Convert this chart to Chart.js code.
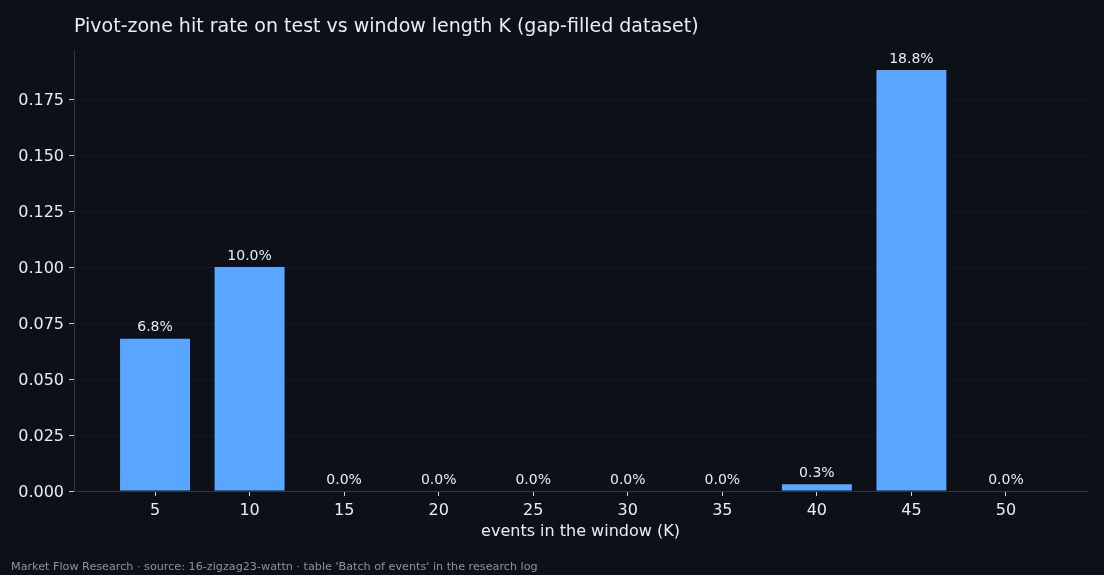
<!DOCTYPE html>
<html>
<head>
<meta charset="utf-8">
<script src="https://cdn.jsdelivr.net/npm/chart.js@4/dist/chart.umd.min.js"></script>
<style>
html,body{margin:0;padding:0;background:#0d1117;}
#wrap{width:1104px;height:575px;position:relative;}
</style>
</head>
<body>
<div id="wrap"><canvas id="c" width="1104" height="575"></canvas></div>
<script>
const windowK = [5, 10, 15, 20, 25, 30, 35, 40, 45, 50];
const hitRate = [0.068, 0.100, 0.000, 0.000, 0.000, 0.000, 0.000, 0.003, 0.188, 0.000];
const yTicks = [0, 0.025, 0.05, 0.075, 0.1, 0.125, 0.15, 0.175];
const titleText = "Pivot-zone hit rate on test vs window length K (gap-filled dataset)";
const xTitle = "events in the window (K)";
const footerText = "Market Flow Research · source: 16-zigzag23-wattn · table 'Batch of events' in the research log";

const FONT = "'DejaVu Sans', sans-serif";

const overlay = {
  id: 'overlay',
  afterDatasetsDraw(chart) {
    const ctx = chart.ctx;
    const meta = chart.getDatasetMeta(0);
    ctx.save();
    ctx.fillStyle = '#e6edf3';
    ctx.font = '14px ' + FONT;
    ctx.textAlign = 'center';
    ctx.textBaseline = 'bottom';
    meta.data.forEach((el, i) => {
      ctx.fillText((hitRate[i] * 100).toFixed(1) + '%', el.x, el.y - 4);
    });
    ctx.restore();
  },
  afterDraw(chart) {
    const ctx = chart.ctx;
    ctx.save();
    ctx.fillStyle = '#e6edf3';
    ctx.font = '19px ' + FONT;
    ctx.textAlign = 'left';
    ctx.textBaseline = 'middle';
    ctx.fillText(titleText, chart.chartArea.left, 27);
    ctx.fillStyle = '#8b949e';
    ctx.font = '11.2px ' + FONT;
    ctx.fillText(footerText, 11, 567);
    ctx.restore();
  }
};

new Chart(document.getElementById('c'), {
  type: 'bar',
  data: {
    datasets: [{
      data: windowK.map((k, i) => ({x: k, y: hitRate[i]})),
      backgroundColor: '#58a6ff',
      borderWidth: 0,
      barPercentage: 0.74,
      categoryPercentage: 1.0
    }]
  },
  options: {
    responsive: false,
    animation: false,
    devicePixelRatio: 1,
    layout: {padding: {top: 50, right: 17, left: 0, bottom: 34}},
    plugins: {legend: {display: false}, title: {display: false}, tooltip: {enabled: false}},
    scales: {
      x: {
        type: 'linear',
        offset: false,
        min: 0.715,
        max: 54.285,
        afterBuildTicks(axis) { axis.ticks = windowK.map(v => ({value: v})); },
        afterFit(axis) { axis.height = 50; },
        ticks: {color: '#e6edf3', font: {family: FONT, size: 16}, padding: 5, includeBounds: false,
                callback: v => String(v)},
        grid: {offset: false, drawOnChartArea: false, drawTicks: true, tickLength: 5, tickColor: '#c9d1d9'},
        border: {display: true, color: '#30363d', width: 1},
        title: {display: true, text: xTitle, color: '#e6edf3', font: {family: FONT, size: 16}, padding: {top: 0, bottom: 0}}
      },
      y: {
        type: 'linear',
        min: 0,
        max: 0.1969,
        afterBuildTicks(axis) { axis.ticks = yTicks.map(v => ({value: v})); },
        afterFit(axis) { axis.width = 74; },
        ticks: {color: '#e6edf3', font: {family: FONT, size: 16}, padding: 5, includeBounds: false,
                labelOffset: 1.5, callback: v => Number(v).toFixed(3)},
        grid: {color: 'rgba(255,255,255,0.035)', drawTicks: true, tickLength: 5, tickColor: '#c9d1d9'},
        border: {display: true, color: '#30363d', width: 1}
      }
    }
  },
  plugins: [overlay]
});
</script>
</body>
</html>
